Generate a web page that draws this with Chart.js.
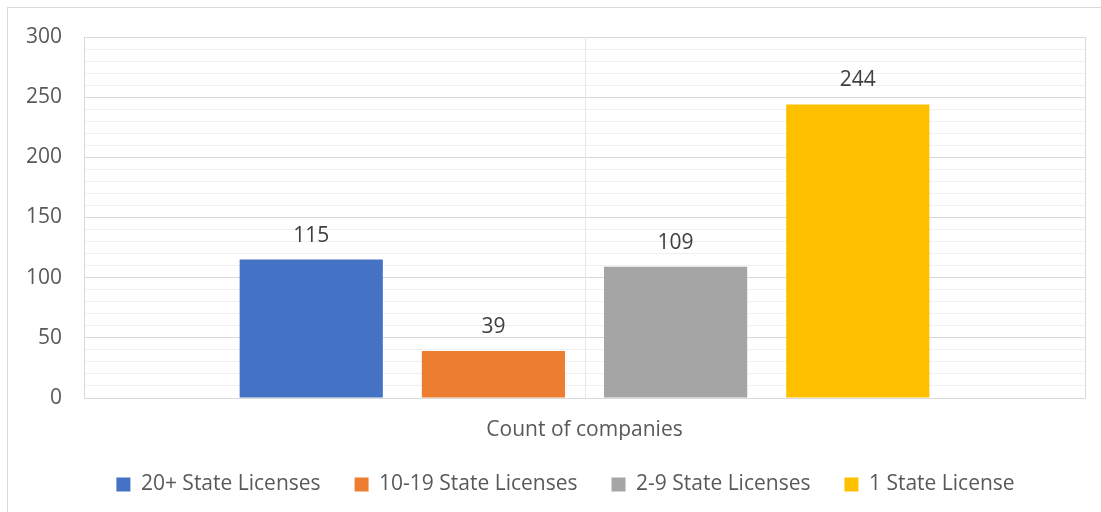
<!DOCTYPE html>
<html>
<head>
<meta charset="utf-8">
<script src="https://cdn.jsdelivr.net/npm/chart.js@4/dist/chart.umd.min.js"></script>
<style>
  html, body { margin: 0; padding: 0; background: #fff; }
  #wrap { position: relative; width: 1101px; height: 512px; }
  #frame { position: absolute; left: 7px; top: 7px; width: 1100px; height: 510px;
           border-left: 1px solid #d9d9d9; border-top: 1px solid #d9d9d9; pointer-events: none; }
</style>
</head>
<body>
<div id="wrap">
  <canvas id="licChart" width="1101" height="512"></canvas>
  <div id="frame"></div>
</div>
<script>
const categories = ['Count of companies'];
const seriesNames = ['20+ State Licenses', '10-19 State Licenses', '2-9 State Licenses', '1 State License'];
const seriesValues = [[115], [39], [109], [244]];
const seriesColors = ['#4472C4', '#ED7D31', '#A5A5A5', '#FFC000'];
const yTicks = [0, 50, 100, 150, 200, 250, 300];

const FONT = "'Open Sans', 'Noto Sans', sans-serif";
const TEXT = '#595959';

// value labels above each bar
const barLabels = {
    id: 'barLabels',
    afterDatasetsDraw(chart){
        const ctx = chart.ctx;
        ctx.save();
        ctx.font = '21px ' + FONT;
        ctx.fillStyle = '#404040';
        ctx.textAlign = 'center';
        ctx.textBaseline = 'middle';
        chart.data.datasets.forEach((ds, i) => {
            chart.getDatasetMeta(i).data.forEach((bar, j) => {
                ctx.fillText(ds.data[j], bar.x, bar.y - 24);
            });
        });
        ctx.restore();
    }
};

// vertical line through the category centre
const centerLine = {
    id: 'centerLine',
    beforeDatasetsDraw(chart){
        const ctx = chart.ctx;
        const x = Math.round(chart.scales.x.getPixelForValue(0)) + 0.5;
        ctx.save();
        ctx.strokeStyle = '#e6e6e6';
        ctx.lineWidth = 1;
        ctx.beginPath();
        ctx.moveTo(x, chart.chartArea.top);
        ctx.lineTo(x, chart.chartArea.bottom);
        ctx.stroke();
        ctx.restore();
    }
};

// legend sits centred under the plot area rather than the whole canvas
const legendShift = {
    id: 'legendShift',
    afterLayout(chart){
        chart.legend.left += 21;
        chart.legend.right += 21;
    }
};

let datasets = [];
for (let i = 0; i < seriesNames.length; i++) {
    datasets.push({
        label: seriesNames[i],
        data: seriesValues[i],
        backgroundColor: seriesColors[i],
        borderWidth: 0,
        categoryPercentage: 0.728,
        barPercentage: 0.786
    });
}

const ctx = document.getElementById('licChart').getContext('2d');
const myChart = new Chart(ctx, {
    type: 'bar',
    data: { labels: categories, datasets: datasets },
    plugins: [centerLine, barLabels, legendShift],
    options: {
        responsive: false,
        animation: false,
        layout: { padding: { left: 4, right: 16, top: 37, bottom: 7 } },
        plugins: {
            tooltip: { enabled: false },
            legend: {
                position: 'bottom',
                labels: {
                    color: TEXT,
                    font: { family: FONT, size: 21 },
                    boxWidth: 14,
                    boxHeight: 14,
                    padding: 34
                }
            }
        },
        scales: {
            x: {
                grid: { offset: true, color: '#d9d9d9', drawTicks: false },
                border: { color: '#d9d9d9' },
                ticks: { color: TEXT, font: { family: FONT, size: 21 }, padding: 19 },
                afterFit: s => { s.height = 42; }
            },
            y: {
                min: 0,
                max: 300,
                ticks: {
                    stepSize: 10,
                    autoSkip: false,
                    color: TEXT,
                    font: { family: FONT, size: 21 },
                    padding: 22,
                    callback: v => yTicks.includes(v) ? v : ''
                },
                grid: {
                    drawTicks: false,
                    color: c => c.tick.value % 50 === 0 ? '#d9d9d9' : '#f0f0f0'
                },
                border: { display: true, color: '#d9d9d9' }
            }
        }
    }
});
</script>
</body>
</html>
